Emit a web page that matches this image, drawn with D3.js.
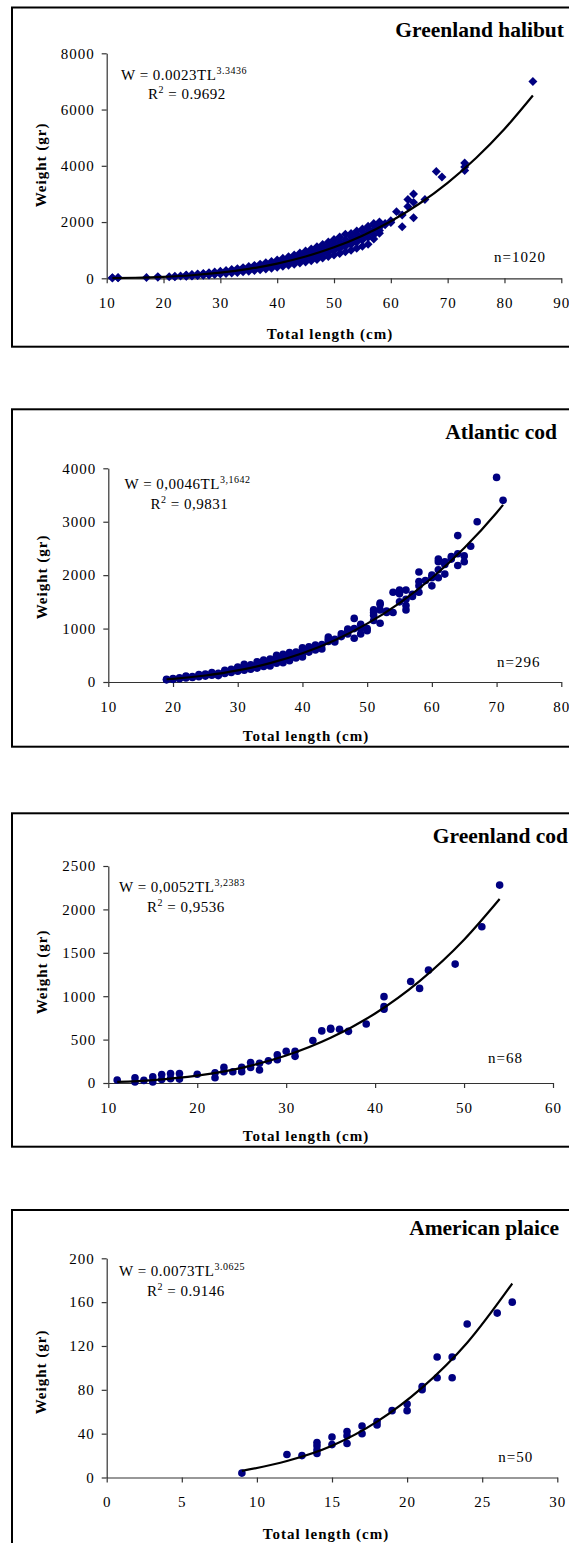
<!DOCTYPE html>
<html>
<head>
<meta charset="utf-8">
<title>Length-weight relationships</title>
<script src="https://d3js.org/d3.v7.min.js"></script>
<style>
    body { margin: 0; background: #fff; }
    svg { display: block; }
    text { font-family: "Liberation Serif", "Times New Roman", serif; fill: #000; }
    .tick text { font-size: 15px; letter-spacing: 1px; }
    .axis path, .axis line { stroke: #333; stroke-width: 1.2px; }
    .title { font-size: 21.5px; font-weight: bold; }
    .lab { font-size: 15px; font-weight: bold; letter-spacing: 1px; }
    .eq { font-size: 15px; letter-spacing: 0.5px; }
    .nlab { font-size: 15px; letter-spacing: 1px; }
    .fit { fill: none; stroke: #000; stroke-width: 2.2px; }
    .box { fill: none; stroke: #000; stroke-width: 2px; }
    .pt { fill: #000080; }
</style>
</head>
<body>
<svg id="chart" width="569" height="1543"></svg>
<script>
// species, labels
const titles = ["Greenland halibut", "Atlantic cod", "Greenland cod", "American plaice"];
const sampleSizes = ["n=1020", "n=296", "n=68", "n=50"];
const eqCoef = ["0.0023", "0,0046", "0,0052", "0.0073"];
const eqExp = ["3.3436", "3,1642", "3,2383", "3.0625"];
const eqR2 = ["0.9692", "0,9831", "0,9536", "0.9146"];
const markers = ["diamond", "circle", "circle", "circle"];

// axes
const xDomains = [[10, 90], [10, 80], [10, 60], [0, 30]];
const yDomains = [[0, 8000], [0, 4000], [0, 2500], [0, 200]];
const xTicks = [
    [10, 20, 30, 40, 50, 60, 70, 80, 90],
    [10, 20, 30, 40, 50, 60, 70, 80],
    [10, 20, 30, 40, 50, 60],
    [0, 5, 10, 15, 20, 25, 30]
];
const yTicks = [
    [0, 2000, 4000, 6000, 8000],
    [0, 1000, 2000, 3000, 4000],
    [0, 500, 1000, 1500, 2000, 2500],
    [0, 40, 80, 120, 160, 200]
];

// observations [total length cm, weight g]
const halibutPoints = [
    [11,10],[11,25],[12,15],[12,30],[17,30],[19,35],[19,60],[21,55],[22,50],[22,70],[23,80],
    [24,70],[24,85],[24,95],[24,105],[24,120],
    [25,80],[25,100],[25,110],[25,120],[25,135],
    [26,95],[26,110],[26,125],[26,135],[26,155],
    [27,105],[27,125],[27,140],[27,155],[27,175],
    [28,120],[28,145],[28,160],[28,175],[28,200],
    [29,135],[29,160],[29,180],[29,195],[29,225],
    [30,150],[30,180],[30,200],[30,220],[30,250],
    [31,170],[31,200],[31,225],[31,245],[31,280],
    [32,185],[32,225],[32,250],[32,275],[32,310],
    [33,205],[33,250],[33,275],[33,300],[33,345],
    [34,230],[34,275],[34,305],[34,335],[34,380],
    [35,250],[35,300],[35,335],[35,370],[35,420],
    [36,275],[36,330],[36,370],[36,405],[36,460],
    [37,300],[37,365],[37,405],[37,445],[37,505],
    [38,330],[38,395],[38,440],[38,485],[38,550],
    [39,360],[39,430],[39,480],[39,530],[39,600],
    [40,390],[40,470],[40,525],[40,575],[40,655],
    [41,425],[41,510],[41,570],[41,625],[41,710],
    [42,460],[42,555],[42,615],[42,680],[42,770],
    [43,500],[43,600],[43,665],[43,735],[43,830],
    [44,540],[44,645],[44,720],[44,790],[44,900],
    [45,580],[45,700],[45,775],[45,850],[45,970],
    [46,625],[46,750],[46,835],[46,920],[46,1040],
    [47,670],[47,805],[47,895],[47,985],[47,1120],
    [48,720],[48,865],[48,960],[48,1060],[48,1200],
    [49,775],[49,925],[49,1030],[49,1135],[49,1290],
    [50,825],[50,990],[50,1100],[50,1210],[50,1380],
    [51,880],[51,1060],[51,1180],[51,1295],[51,1470],
    [52,940],[52,1130],[52,1255],[52,1380],[52,1570],
    [53,1000],[53,1205],[53,1340],[53,1475],[53,1590],
    [54,1070],[54,1280],[54,1425],[54,1570],[54,1680],
    [55,1140],[55,1365],[55,1515],[55,1670],[55,1750],
    [56,1210],[56,1450],[56,1610],[56,1770],[56,1850],
    [57,1400],[57,1540],[57,1710],[57,1880],[57,1950],
    [58,1600],[58,1700],[58,1810],[58,1950],[58,2000],
    [59,1900],[59,1950],[60,1980],[60,2050],
    [61,2370],[62,1830],[62,2250],[63,2550],[63,2800],[64,3000],[64,2700],[64,2150],
    [66,2800],[68,3800],[69,3600],[73,3830],[73,3960],[73,4100],[85,7000]
];
const atlCodPoints = [
    [19,40],[19,50],[20,50],[20,65],[20,55],[21,60],[21,80],[22,75],[22,95],[22,110],
    [23,85],[23,100],[24,100],[24,120],[24,140],[25,110],[25,130],[25,150],
    [26,125],[26,150],[26,175],[27,120],[27,140],[27,165],[28,160],[28,190],[28,220],
    [29,180],[29,210],[29,240],[30,200],[30,230],[30,260],[30,280],
    [31,220],[31,250],[31,300],[31,330],[32,240],[32,280],[32,320],
    [33,260],[33,300],[33,340],[33,380],[34,290],[34,330],[34,380],[34,410],
    [35,300],[35,350],[35,400],[35,430],[36,350],[36,390],[36,440],[36,470],[36,500],
    [37,360],[37,420],[37,460],[37,520],[38,400],[38,450],[38,500],[38,550],
    [39,450],[39,500],[39,560],[40,470],[40,540],[40,600],[40,640],
    [41,560],[41,620],[41,660],[42,600],[42,650],[42,690],[43,620],[43,700],
    [44,760],[44,800],[44,840],[45,750],[45,800],[46,850],[46,900],
    [47,900],[47,960],[47,990],[48,820],[48,1000],[48,1190],[49,900],[49,1000],[49,1080],
    [50,960],[50,1000],[51,1150],[51,1250],[51,1300],[51,1350],
    [52,1100],[52,1350],[52,1450],[52,1480],[53,1300],[53,1330],[54,1300],[54,1680],
    [55,1500],[55,1650],[55,1720],[56,1350],[56,1430],[56,1550],[56,1720],
    [57,1600],[57,1640],[58,1680],[58,1800],[58,1880],[58,2060],[59,1900],
    [60,1800],[60,1950],[60,2000],[61,1950],[61,2100],[61,2250],[61,2300],
    [62,2020],[62,2200],[62,2250],[63,2300],[63,2350],[64,2180],[64,2400],[64,2740],
    [65,2250],[65,2360],[66,2540],[67,3000],[70,3830],[71,3400]
];
const grCodPoints = [
    [11,35],[13,60],[13,12],[14,30],[15,70],[15,12],[16,98],[16,40],[17,110],[17,50],
    [18,110],[18,45],[20,100],[22,118],[22,60],[23,180],[23,130],[24,130],[25,180],[25,130],
    [26,236],[26,180],[27,228],[27,150],[28,255],[29,326],[29,267],[30,365],[31,366],[31,307],
    [33,490],[34,600],[35,620],[35,630],[36,620],[37,595],[39,680],[41,995],[41,880],[41,850],
    [44,1170],[45,1090],[46,1300],[49,1370],[52,1800],[54,2280]
];
const plaicePoints = [
    [9,4],[12,21],[13,20],[14,32],[14,29],[14,25],[14,22],[15,37],[15,30],
    [16,42],[16,38],[16,31],[17,47],[17,40],[18,51],[18,48],[19,61],[20,67],[20,61],
    [21,83],[21,80],[22,110],[22,91],[23,110],[23,91],[24,140],[26,150],[27,160]
];
const pointSets = [halibutPoints, atlCodPoints, grCodPoints, plaicePoints];

// fitted power curves [length, weight]
const halibutFit = [[11,7],[15,20],[20,52],[25,109],[30,200],[35,335],[40,523],[45,775],[50,1102],[55,1517],[60,2029],[65,2650],[70,3395],[75,4278],[80,5309],[85,6500]];
const atlCodFit = [[19,51],[20,60],[25,122],[30,217],[35,354],[40,539],[45,783],[50,1093],[55,1478],[60,1946],[65,2508],[70,3169],[71,3315]];
const grCodFit = [[11,12],[15,34],[20,85],[25,175],[30,316],[35,520],[40,801],[45,1174],[50,1651],[54,2120]];
const plaiceFit = [[9,6],[12,15],[15,29],[18,51],[21,82],[24,123],[27,177]];
const fitSets = [halibutFit, atlCodFit, grCodFit, plaiceFit];

// page layout of the four panels (pixels)
const layout = [
    {top: 7.5, bottom: 346.7, x0: 106.7, x1: 561.3, y0: 278.3, y1: 53.3, title: [564, 36.7], eq: [121, 80, 148, 99], n: [494, 261.7], xlab: [330, 339], ylab: [46, 165]},
    {top: 409.3, bottom: 746.7, x0: 108.3, x1: 561.3, y0: 682, y1: 468.3, title: [557, 438.5], eq: [124.5, 489, 150.6, 509], n: [497, 666.7], xlab: [306, 741], ylab: [47, 577]},
    {top: 813.3, bottom: 1146.7, x0: 108.3, x1: 553, y0: 1083, y1: 866, title: [568, 843.3], eq: [119, 892, 147, 912], n: [488, 1062.7], xlab: [306, 1141], ylab: [47, 972]},
    {top: 1210, bottom: 1600, x0: 106.7, x1: 557.3, y0: 1477.5, y1: 1258.3, title: [559, 1235], eq: [119, 1276, 147, 1296], n: [498.3, 1461.7], xlab: [326, 1539], ylab: [46, 1372]}
];

const svg = d3.select("#chart");

layout.forEach((L, i) => {
    const g = svg.append("g");

    // frame
    g.append("rect").attr("class", "box")
        .attr("x", 12).attr("y", L.top)
        .attr("width", 620).attr("height", L.bottom - L.top);

    const x = d3.scaleLinear().domain(xDomains[i]).range([L.x0, L.x1]);
    const y = d3.scaleLinear().domain(yDomains[i]).range([L.y0, L.y1]);

    g.append("g").attr("class", "axis")
        .attr("transform", `translate(0,${L.y0})`)
        .call(d3.axisBottom(x).tickValues(xTicks[i]).tickSize(5).tickSizeOuter(0).tickPadding(14).tickFormat(d3.format("d")));

    g.append("g").attr("class", "axis")
        .attr("transform", `translate(${L.x0},0)`)
        .call(d3.axisLeft(y).tickValues(yTicks[i]).tickSize(5).tickSizeOuter(0).tickPadding(7).tickFormat(d3.format("d")));

    // observations
    const pts = g.append("g");
    if (markers[i] === "diamond") {
        pts.selectAll("path").data(pointSets[i]).join("path")
            .attr("class", "pt")
            .attr("d", d3.symbol(d3.symbolSquare, 40))
            .attr("transform", d => `translate(${x(d[0])},${y(d[1])}) rotate(45)`);
    } else {
        pts.selectAll("circle").data(pointSets[i]).join("circle")
            .attr("class", "pt")
            .attr("r", 3.8)
            .attr("cx", d => x(d[0]))
            .attr("cy", d => y(d[1]));
    }

    // trend line
    const line = d3.line().x(d => x(d[0])).y(d => y(d[1])).curve(d3.curveMonotoneX);
    g.append("path").attr("class", "fit").attr("d", line(fitSets[i]));

    // texts
    g.append("text").attr("class", "title")
        .attr("x", L.title[0]).attr("y", L.title[1])
        .attr("text-anchor", "end").text(titles[i]);

    const eq1 = g.append("text").attr("class", "eq").attr("x", L.eq[0]).attr("y", L.eq[1]);
    eq1.append("tspan").text(`W = ${eqCoef[i]}TL`);
    eq1.append("tspan").attr("font-size", 10).attr("dy", -6).text(eqExp[i]);

    const eq2 = g.append("text").attr("class", "eq").attr("x", L.eq[2]).attr("y", L.eq[3]);
    eq2.append("tspan").text("R");
    eq2.append("tspan").attr("font-size", 10).attr("dy", -6).text("2");
    eq2.append("tspan").attr("dy", 6).text(` = ${eqR2[i]}`);

    g.append("text").attr("class", "nlab")
        .attr("x", L.n[0]).attr("y", L.n[1]).text(sampleSizes[i]);

    g.append("text").attr("class", "lab")
        .attr("x", L.xlab[0]).attr("y", L.xlab[1])
        .attr("text-anchor", "middle").text("Total length (cm)");

    g.append("text").attr("class", "lab")
        .attr("transform", `translate(${L.ylab[0]},${L.ylab[1]}) rotate(-90)`)
        .attr("text-anchor", "middle").text("Weight (gr)");
});
</script>
</body>
</html>
